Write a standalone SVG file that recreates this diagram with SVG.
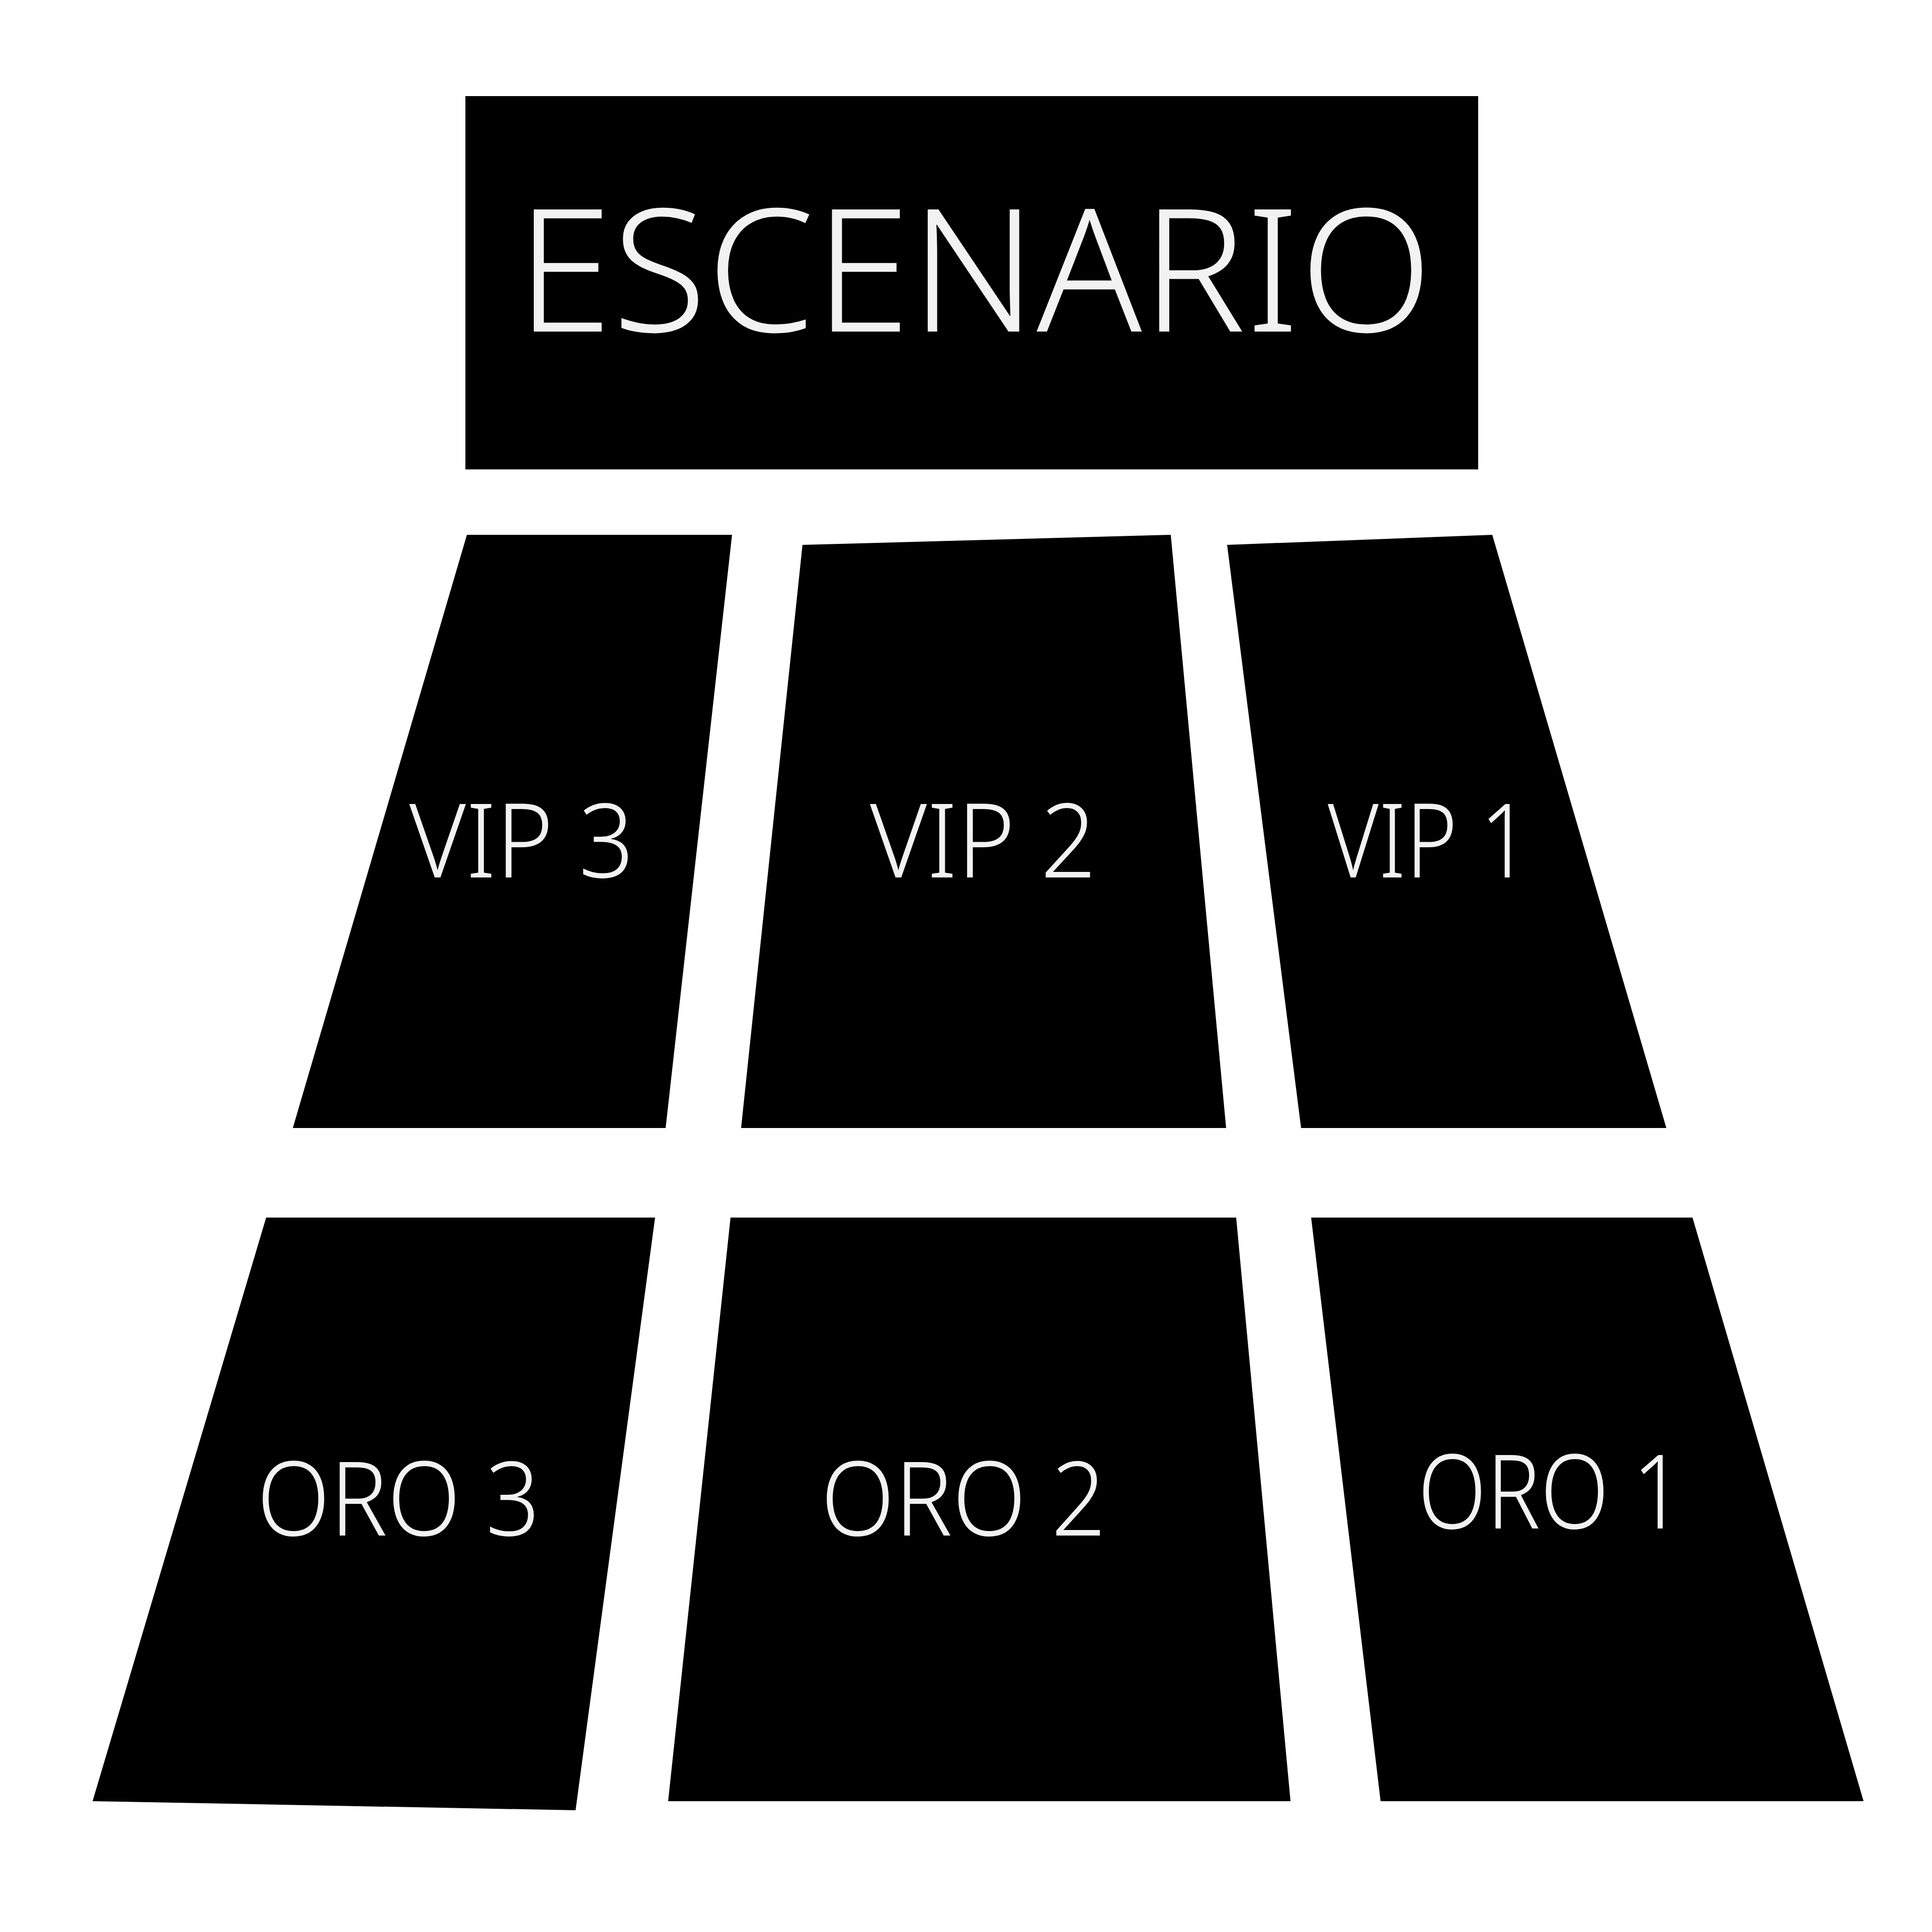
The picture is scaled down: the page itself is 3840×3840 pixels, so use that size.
<svg xmlns="http://www.w3.org/2000/svg" width="3840" height="3840" viewBox="0 0 3840 3840">
<style>
.blk{fill:#000}
.lbl{fill:#f2f2f2;font-family:"Noto Sans","Liberation Sans",sans-serif;font-weight:300;text-anchor:middle}
.big{font-size:340px}
.mid{font-size:205px}
</style>
<rect width="3840" height="3840" fill="#fff"/>
<g id="escenario">
<rect class="blk" x="925" y="191" width="2013" height="742"/>
<text class="lbl big" x="1937" y="659" textLength="1821" lengthAdjust="spacingAndGlyphs">ESCENARIO</text>
</g>
<g id="vip3">
<polygon class="blk" points="928,1063 1455,1063 1323,2242 582,2242"/>
<text class="lbl mid" x="1037" y="1744" textLength="447" lengthAdjust="spacingAndGlyphs">VIP 3</text>
</g>
<g id="vip2">
<polygon class="blk" points="1595,1083 2327,1063 2437,2242 1473,2242"/>
<text class="lbl mid" x="1954" y="1744" textLength="450" lengthAdjust="spacingAndGlyphs">VIP 2</text>
</g>
<g id="vip1">
<polygon class="blk" points="2439,1083 2966,1063 3312,2242 2586,2242"/>
<text class="lbl mid" x="2840" y="1744" textLength="402" lengthAdjust="spacingAndGlyphs">VIP 1</text>
</g>
<g id="oro3">
<polygon class="blk" points="529,2420 1302,2420 1144,3598 184,3580"/>
<text class="lbl mid" x="792" y="3052" textLength="563" lengthAdjust="spacingAndGlyphs">ORO 3</text>
</g>
<g id="oro2">
<polygon class="blk" points="1452,2420 2457,2420 2565,3580 1328,3580"/>
<text class="lbl mid" x="1915" y="3052" textLength="567" lengthAdjust="spacingAndGlyphs">ORO 2</text>
</g>
<g id="oro1">
<polygon class="blk" points="2606,2420 3364,2420 3704,3580 2744,3580"/>
<text class="lbl mid" x="3082" y="3038" textLength="528" lengthAdjust="spacingAndGlyphs">ORO 1</text>
</g>
<g id="connectors"/>
</svg>
